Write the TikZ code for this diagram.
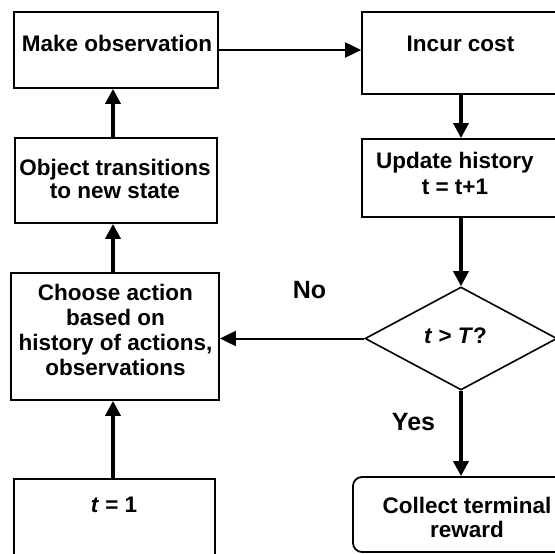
\documentclass[tikz,border=0pt]{standalone}
\usepackage{fontspec}
\setmainfont{Liberation Sans}
\usetikzlibrary{arrows.meta,shapes.geometric}
\begin{document}
\begin{tikzpicture}[x=1pt,y=-1pt,
  box/.style={draw,line width=1.8pt,rectangle,inner sep=0pt},
  txt/.style={inner sep=0pt,align=center,font=\fontsize{22.5}{25}\selectfont\bfseries},
  lbl/.style={inner sep=0pt,font=\fontsize{25}{28}\selectfont\bfseries},
  varr/.style={line width=3.5pt,-{Triangle[length=15pt,width=15pt]}},
  harr/.style={line width=2pt,-{Triangle[length=16pt,width=15pt]}}]
\useasboundingbox (0,0) rectangle (555,554);
\clip (0,0) rectangle (555,554);
% boxes
\node[box,minimum width=204pt,minimum height=76pt] (mo) at (116,50) {};
\node[box,minimum width=202pt,minimum height=85pt] (ot) at (116,180.5) {};
\node[box,minimum width=208pt,minimum height=127pt] (ca) at (115,336.5) {};
\node[box,minimum width=201pt,minimum height=91pt] (t1) at (114.5,524.5) {};
\node[box,minimum width=198pt,minimum height=82pt] (ic) at (461,53) {};
\node[box,minimum width=198pt,minimum height=78pt] (uh) at (461,178) {};
\node[draw,line width=1.6pt,diamond,inner sep=0pt,minimum width=192pt,minimum height=103pt] (dm) at (461,338.5) {};
\node[box,rounded corners=9pt,minimum width=214pt,minimum height=75pt] (cr) at (460,514.5) {};
% texts
\node[txt,anchor=base] (mo-t) at (117,52) {Make observation};
\node[txt,anchor=north,font=\fontsize{22.5}{23.5}\selectfont\bfseries] (ot-t) at (115,158.6) {Object transitions\\to new state};
\node[txt,anchor=north] (ca-t) at (115.5,283.6) {Choose action\\based on\\history of actions,\\observations};
\node[txt,anchor=base] (t1-t) at (114,512) {\textit{t} = 1};
\node[txt,anchor=base] (ic-t) at (460.5,52) {Incur cost};
\node[txt,anchor=north,font=\fontsize{22.5}{26}\selectfont\bfseries] (uh-t) at (455,152) {Update history\\t = t+1};
\node[txt,anchor=base] (dm-t) at (455.5,343) {\textit{t} > \textit{T}?};
\node[txt,anchor=north,font=\fontsize{22.5}{24}\selectfont\bfseries] (cr-t) at (467,496.6) {Collect terminal\\reward};
\node[lbl,anchor=base] (no) at (309.5,298) {No};
\node[lbl,anchor=base] (yes) at (413.5,430) {Yes};
% connectors
\draw[varr] ([xshift=-3pt]ot.north) -- ([xshift=-3pt]ot.north |- mo.south);
\draw[varr] ([xshift=-2pt]ca.north) -- ([xshift=-2pt]ca.north |- ot.south);
\draw[varr] ([xshift=-1.5pt]t1.north) -- ([xshift=-1.5pt]t1.north |- ca.south);
\draw[harr] (mo.east) -- (mo.east -| ic.west);
\draw[varr] (ic.south) -- (uh.north);
\draw[varr] (uh.south) -- (dm.north);
\draw[harr] (dm.west) -- (dm.west -| ca.east);
\draw[varr] (dm.south) -- (dm.south |- cr.north);
\end{tikzpicture}
\end{document}
